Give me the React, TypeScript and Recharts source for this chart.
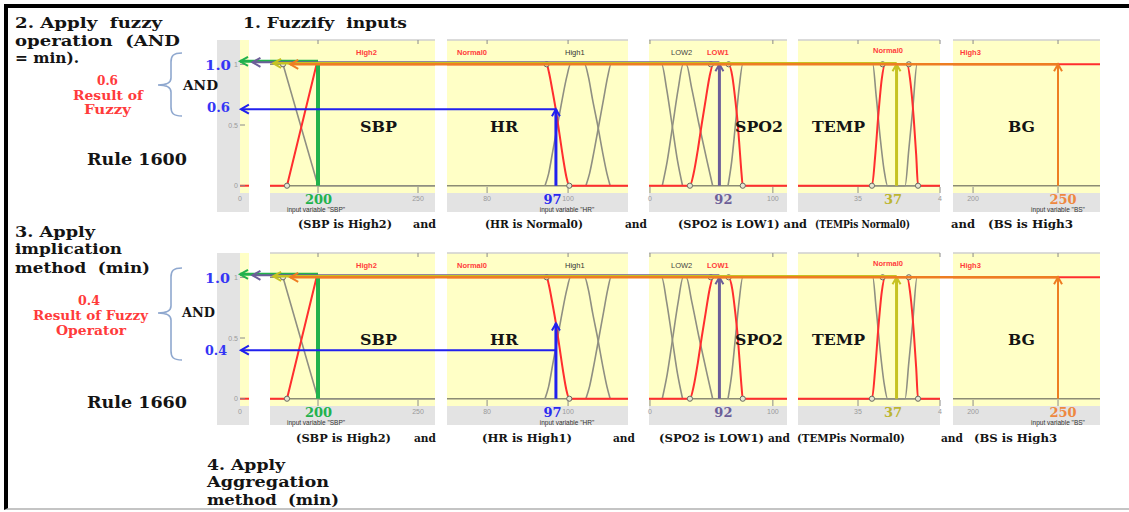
import React from 'react';
import { LineChart, Line, XAxis, YAxis, CartesianGrid, ReferenceLine } from 'recharts';

type P = { x: number; y: number };

// ---------------- data ----------------
const panelNames = ['SBP', 'HR', 'SPO2', 'TEMP', 'BG'];
const panelDomains: [number, number][] = [
  [176, 258.5], [70.1, 114.8], [79.84, 102.3], [31.34, 40], [188.2, 274.7],
];
const panelTicks: number[][] = [[200, 250], [80, 100], [80, 100], [35, 40], [200, 250]];
// tick labels as they can be seen (the ones under the big input numbers are hidden)
const panelTickLabels: string[][] = [['', '250'], ['80', '100'], ['0', '100'], ['35', '4'], ['200', '']];

// membership functions (red = active term, gray = other terms)
const sbpHigh2: P[] = [{ x: 176, y: 0 }, { x: 184.5, y: 0 }, { x: 199.3, y: 1 }, { x: 258.5, y: 1 }];
const sbpHigh1: P[] = [{ x: 176, y: 1 }, { x: 182.5, y: 1 }, { x: 200, y: 0 }, { x: 258.5, y: 0 }];

const hrNormal0: P[] = [
  { x: 70.1, y: 1 }, { x: 94.7, y: 1 }, { x: 95.3, y: 0.93 }, { x: 96.1, y: 0.79 }, { x: 97, y: 0.62 },
  { x: 97.9, y: 0.42 }, { x: 98.8, y: 0.22 }, { x: 99.6, y: 0.07 }, { x: 100.3, y: 0 }, { x: 114.8, y: 0 },
];
const hrHigh1: P[] = [
  { x: 94.3, y: 0 }, { x: 95.2, y: 0.1 }, { x: 96.3, y: 0.3 }, { x: 97.4, y: 0.5 }, { x: 98.6, y: 0.72 },
  { x: 99.7, y: 0.9 }, { x: 100.6, y: 1 }, { x: 104.1, y: 1 }, { x: 105, y: 0.9 }, { x: 106.1, y: 0.7 },
  { x: 107.3, y: 0.5 }, { x: 108.5, y: 0.28 }, { x: 109.6, y: 0.1 }, { x: 110.4, y: 0 },
];
const hrHigh2: P[] = [
  { x: 104.4, y: 0 }, { x: 105.3, y: 0.1 }, { x: 106.5, y: 0.3 }, { x: 107.6, y: 0.5 }, { x: 108.8, y: 0.72 },
  { x: 109.8, y: 0.9 }, { x: 110.6, y: 1 }, { x: 114.8, y: 1 },
];

const spoLow3: P[] = [
  { x: 79.84, y: 1 }, { x: 81.9, y: 1 }, { x: 82.7, y: 0.8 }, { x: 83.6, y: 0.5 }, { x: 84.5, y: 0.2 }, { x: 85.3, y: 0 },
];
const spoLow2: P[] = [
  { x: 82.0, y: 0 }, { x: 82.8, y: 0.2 }, { x: 83.7, y: 0.5 }, { x: 84.6, y: 0.8 }, { x: 85.4, y: 1 },
  { x: 85.9, y: 1 }, { x: 86.8, y: 0.8 }, { x: 88.0, y: 0.5 }, { x: 89.3, y: 0.2 }, { x: 90.2, y: 0 },
];
const spoLow1: P[] = [
  { x: 79.84, y: 0 }, { x: 86.5, y: 0 }, { x: 87.1, y: 0.1 }, { x: 87.8, y: 0.3 }, { x: 88.4, y: 0.5 },
  { x: 89.1, y: 0.72 }, { x: 89.7, y: 0.9 }, { x: 90.3, y: 1 }, { x: 92.8, y: 1 }, { x: 93.4, y: 0.9 },
  { x: 93.9, y: 0.7 }, { x: 94.3, y: 0.5 }, { x: 94.6, y: 0.3 }, { x: 94.9, y: 0.1 }, { x: 95.1, y: 0 }, { x: 102.3, y: 0 },
];
const spoNormal: P[] = [
  { x: 92.7, y: 0 }, { x: 93.3, y: 0.2 }, { x: 93.9, y: 0.5 }, { x: 94.5, y: 0.8 }, { x: 95.1, y: 1 }, { x: 102.3, y: 1 },
];

const tempLow: P[] = [
  { x: 31.34, y: 1 }, { x: 35.9, y: 1 }, { x: 36.1, y: 0.75 }, { x: 36.35, y: 0.4 }, { x: 36.6, y: 0.12 }, { x: 36.8, y: 0 }, { x: 40, y: 0 },
];
const tempNormal0: P[] = [
  { x: 31.34, y: 0 }, { x: 35.85, y: 0 }, { x: 36.05, y: 0.25 }, { x: 36.25, y: 0.6 }, { x: 36.45, y: 0.88 },
  { x: 36.65, y: 1 }, { x: 37.99, y: 1 }, { x: 38.2, y: 0.85 }, { x: 38.4, y: 0.55 }, { x: 38.55, y: 0.25 },
  { x: 38.66, y: 0 }, { x: 40, y: 0 },
];
const tempHigh: P[] = [
  { x: 31.34, y: 0 }, { x: 37.87, y: 0 }, { x: 38.1, y: 0.3 }, { x: 38.35, y: 0.65 }, { x: 38.6, y: 1 }, { x: 40, y: 1 },
];

const bgHigh3: P[] = [{ x: 188.2, y: 1 }, { x: 274.7, y: 1 }];

const panelGray: P[][][] = [[sbpHigh1], [hrHigh1, hrHigh2], [spoLow3, spoLow2, spoNormal], [tempLow, tempHigh], []];
const panelRed: P[][] = [sbpHigh2, hrNormal0, spoLow1, tempNormal0, bgHigh3];
const panelMarks: P[][] = [
  [{ x: 184.5, y: 0 }, { x: 182.5, y: 1 }],
  [{ x: 94.7, y: 1 }, { x: 100.3, y: 0 }],
  [{ x: 86.5, y: 0 }, { x: 89.9, y: 1 }, { x: 92.8, y: 1 }, { x: 95.1, y: 0 }],
  [{ x: 35.85, y: 0 }, { x: 36.5, y: 1 }, { x: 38.1, y: 1 }, { x: 38.66, y: 0 }],
  [],
];

// inputs and the arrows
const inputValues = [200, 97, 91.3, 37.35, 250];
const inputLabels = ['200', '97', '92', '37', '250'];
const riseTo = [[1, 0.63, 1, 1, 1], [1, 0.62, 1, 1, 1]];
const carryLevel = [[1, 0.63, 1, 1, 1], [1, 0.4, 1, 1, 1]];
const carryEnd = [161, 19.2, 15.3, -0.67, -201.8];

// left column (rule output axis)
const leftTicks = [0, 0.5, 1];
const leftTickLabels = ['0', '0.5', '1'];
const leftBase: P[] = [{ x: 0, y: 0 }, { x: 1, y: 0 }];

// MF term labels per panel
const termLabels: { t: string; dx: number; c: string; b: boolean; dy: number }[][] = [
  [{ t: 'High2', dx: 86, c: '#ff3b3b', b: true, dy: 0 }],
  [{ t: 'Normal0', dx: 10, c: '#ff3b3b', b: true, dy: 0 }, { t: 'High1', dx: 118, c: '#333', b: false, dy: 0 }],
  [{ t: 'LOW2', dx: 22, c: '#444', b: false, dy: 0 }, { t: 'LOW1', dx: 58, c: '#ff3b3b', b: true, dy: 0 }],
  [{ t: 'Normal0', dx: 75, c: '#ff3b3b', b: true, dy: -2 }],
  [{ t: 'High3', dx: 7, c: '#ff3b3b', b: true, dy: 0 }],
];
const inputVarLabels = ['input variable "SBP"', 'input variable "HR"', '', '', 'input variable "BS"'];

// ---------------- style / layout ----------------
const rowTops = [40, 253];
const panelLefts = [270, 447, 649, 798, 953];
const panelWidths = [165, 181, 138, 142, 147];
const PLOT_H = 153;
const AXIS_H = 19;
const Y_DOMAIN: [number, number] = [-0.06, 1.2];
const YELLOW = '#ffffc6';
const GRAYBG = '#e3e3e3';
const RED = '#ff2e2e';
const MFGRAY = '#8f8f82';
const arrowColors = ['#22b24c', '#2121ee', '#6c5e98', '#c6c222', '#ee7d22'];
const labelColors = ['#22b24c', '#2a2aee', '#6c5e98', '#bcb530', '#ee8840'];
const labelShift = [0.5, -3.5, 4, -3.5, 5];
const riseWidths = [4, 3, 3, 3, 2];
const carryWidths = [3, 2, 2, 2.5, 2.5];
const carryLift = [-3, 0, -2, -1, 0];
const riseHead = [false, true, true, true, true];
const curveTypes: ('linear' | 'monotone')[] = ['linear', 'monotone', 'monotone', 'monotone', 'linear'];
const SERIF = "'DejaVu Serif', serif";
const SANS = "'Liberation Sans', Arial, sans-serif";

function riseShape(i: number) {
  return (p: any) => {
    const { x1, y1, x2, y2 } = p;
    const c = arrowColors[i];
    return (
      <g>
        <line x1={x1} y1={y1} x2={x2} y2={y2} stroke={c} strokeWidth={riseWidths[i]} />
        {riseHead[i] && (
          <polyline points={`${x2 - 4},${y2 + 7} ${x2},${y2} ${x2 + 4},${y2 + 7}`} fill="none" stroke={c} strokeWidth={2} />
        )}
        <text x={x1 + labelShift[i]} y={y1 + 18} textAnchor="middle" fontFamily={SERIF} fontWeight="bold" fontSize={13} fill={labelColors[i]}>
          {inputLabels[i]}
        </text>
      </g>
    );
  };
}

function carryShape(i: number) {
  return (p: any) => {
    const { x1, y1, x2, y2 } = p;
    const c = arrowColors[i];
    const a = y1 + carryLift[i];
    const b = y2 + carryLift[i];
    return (
      <g>
        <line x1={x1} y1={a} x2={x2} y2={b} stroke={c} strokeWidth={carryWidths[i]} />
        <polyline points={`${x2 + 8},${b - 4.5} ${x2},${b} ${x2 + 8},${b + 4.5}`} fill="none" stroke={c} strokeWidth={2} />
      </g>
    );
  };
}

function Panel({ idx, row }: { idx: number; row: number }) {
  const w = panelWidths[idx];
  const dom = panelDomains[idx];
  const ticks = panelTicks[idx];
  const labels = panelTickLabels[idx];
  const tickFn = (p: any) => {
    const k = ticks.indexOf(p.payload.value);
    const x = p.x;
    const y = p.y;
    return (
      <g>
        <line x1={x} x2={x} y1={y - 6} y2={y} stroke="#8a8a8a" strokeWidth={1} />
        <line x1={x} x2={x} y1={y - PLOT_H} y2={y - PLOT_H + 4} stroke="#8a8a8a" strokeWidth={1} />
        {labels[k] ? (
          <text x={x} y={y + 8} textAnchor="middle" fontFamily={SANS} fontSize={7} fill="#9a9a9a">
            {labels[k]}
          </text>
        ) : null}
      </g>
    );
  };
  return (
    <div style={{ position: 'absolute', left: panelLefts[idx], top: rowTops[row], width: w, height: PLOT_H + AXIS_H, background: GRAYBG }}>
      <LineChart width={w} height={PLOT_H + AXIS_H} margin={{ top: 0, right: 0, bottom: 0, left: 0 }}>
        <CartesianGrid fill={YELLOW} horizontal={false} vertical={false} stroke="none" />
        <XAxis
          type="number" dataKey="x" domain={dom} ticks={ticks} interval={0} height={AXIS_H}
          axisLine={false} tickLine={false} tickSize={0} tickMargin={0} tick={tickFn} allowDataOverflow
        />
        <YAxis type="number" domain={Y_DOMAIN} hide allowDataOverflow />
        <ReferenceLine y={Y_DOMAIN[1]} stroke="#cfcfcf" strokeWidth={1.5} />
        <Line data={[{ x: dom[0], y: 0 }, { x: dom[1], y: 0 }]} dataKey="y" stroke="#8c8c74" strokeWidth={1.5} dot={false} activeDot={false} isAnimationActive={false} />
        {panelGray[idx].map((d, j) => (
          <Line key={j} data={d} dataKey="y" type={curveTypes[idx]} stroke={MFGRAY} strokeWidth={1.6} dot={false} activeDot={false} isAnimationActive={false} />
        ))}
        <Line data={panelRed[idx]} dataKey="y" type={curveTypes[idx]} stroke={RED} strokeWidth={2} dot={false} activeDot={false} isAnimationActive={false} />
        <Line data={panelMarks[idx]} dataKey="y" stroke="none" dot={{ r: 2.6, stroke: '#6a6a60', strokeWidth: 1, fill: '#e6e6d2' }} activeDot={false} isAnimationActive={false} />
        <ReferenceLine
          segment={[{ x: inputValues[idx], y: 0 }, { x: inputValues[idx], y: riseTo[row][idx] }]}
          ifOverflow="visible" shape={riseShape(idx)} zIndex={2000}
        />
        <ReferenceLine
          segment={[{ x: inputValues[idx], y: carryLevel[row][idx] }, { x: carryEnd[idx], y: carryLevel[row][idx] }]}
          ifOverflow="visible" shape={carryShape(idx)} zIndex={2000}
        />
      </LineChart>
    </div>
  );
}

function LeftColumn({ row }: { row: number }) {
  const yTick = (p: any) => {
    const k = leftTicks.indexOf(p.payload.value);
    return (
      <g>
        <line x1={p.x} x2={p.x + 5} y1={p.y} y2={p.y} stroke="#8a8a8a" strokeWidth={1} />
        <text x={p.x - 2} y={p.y + 2.5} textAnchor="end" fontFamily={SANS} fontSize={7} fill="#9a9a9a">
          {leftTickLabels[k]}
        </text>
      </g>
    );
  };
  const xTick = (p: any) => (
    <text x={p.x} y={p.y + 8} textAnchor="middle" fontFamily={SANS} fontSize={7} fill="#9a9a9a">0</text>
  );
  return (
    <div style={{ position: 'absolute', left: 217, top: rowTops[row], width: 32, height: PLOT_H + AXIS_H, background: GRAYBG }}>
      <LineChart width={32} height={PLOT_H + AXIS_H} margin={{ top: 0, right: 0, bottom: 0, left: 0 }}>
        <CartesianGrid fill={YELLOW} horizontal={false} vertical={false} stroke="none" />
        <XAxis type="number" dataKey="x" domain={[0, 1]} ticks={[0]} height={AXIS_H} axisLine={false} tickLine={false} tickSize={0} tickMargin={0} tick={xTick} allowDataOverflow />
        <YAxis type="number" domain={Y_DOMAIN} ticks={leftTicks} interval={0} width={23} axisLine={false} tickLine={false} tickSize={0} tickMargin={0} tick={yTick} allowDataOverflow />
        <Line data={leftBase} dataKey="y" stroke={RED} strokeWidth={2} dot={false} activeDot={false} isAnimationActive={false} />
      </LineChart>
    </div>
  );
}

type TS = { t: string; x: number; y: number; s: number; c?: string; w?: number; f?: string; b?: boolean };

const K = '#141414';
const BLUE = '#3535f5';
const RTXT = '#ff3b3b';

const texts: TS[] = [
  { t: '2. Apply  fuzzy', x: 15, y: 28, s: 15, w: 147 },
  { t: 'operation  (AND', x: 15, y: 46, s: 15, w: 165 },
  { t: '= min).', x: 15, y: 63, s: 15, w: 64 },
  { t: '1. Fuzzify  inputs', x: 243, y: 28, s: 15, w: 164 },
  { t: '0.6', x: 97, y: 85, s: 12, w: 21, c: RTXT },
  { t: 'Result of', x: 73, y: 100, s: 12, w: 70, c: RTXT },
  { t: 'Fuzzy', x: 84, y: 114, s: 12, w: 47, c: RTXT },
  { t: 'AND', x: 183, y: 90, s: 12, w: 35 },
  { t: '1.0', x: 205, y: 70, s: 13, w: 26, c: BLUE },
  { t: '0.6', x: 207, y: 112, s: 13, w: 23, c: BLUE },
  { t: 'Rule 1600', x: 87, y: 165, s: 16, w: 100 },
  { t: '3. Apply', x: 15, y: 237, s: 15, w: 80 },
  { t: 'implication', x: 15, y: 254, s: 15, w: 107 },
  { t: 'method  (min)', x: 15, y: 273, s: 15, w: 135 },
  { t: '0.4', x: 78, y: 305, s: 12, w: 22, c: RTXT },
  { t: 'Result of Fuzzy', x: 33, y: 320, s: 12, w: 115, c: RTXT },
  { t: 'Operator', x: 56, y: 335, s: 12, w: 70, c: RTXT },
  { t: 'AND', x: 182, y: 317, s: 12, w: 33 },
  { t: '1.0', x: 205, y: 283, s: 13, w: 25, c: BLUE },
  { t: '0.4', x: 205, y: 355, s: 13, w: 22, c: BLUE },
  { t: 'Rule 1660', x: 87, y: 408, s: 16, w: 100 },
  { t: '4. Apply', x: 207, y: 470, s: 15, w: 78 },
  { t: 'Aggregation', x: 207, y: 487, s: 15, w: 122 },
  { t: 'method  (min)', x: 207, y: 505, s: 15, w: 132 },
  // rule 1600 conditions
  { t: '(SBP is High2)', x: 298, y: 228, s: 11, w: 94 },
  { t: 'and', x: 413, y: 228, s: 11, w: 23 },
  { t: '(HR is Normal0)', x: 485, y: 228, s: 11, w: 98 },
  { t: 'and', x: 625, y: 228, s: 11, w: 22 },
  { t: '(SPO2 is LOW1) and', x: 678, y: 228, s: 11, w: 129 },
  { t: '(TEMPis Normal0)', x: 815, y: 228, s: 11, w: 95 },
  { t: 'and', x: 951, y: 228, s: 11, w: 24 },
  { t: '(BS is High3', x: 988, y: 228, s: 11, w: 85 },
  // rule 1660 conditions
  { t: '(SBP is High2)', x: 296, y: 442, s: 11, w: 95 },
  { t: 'and', x: 414, y: 442, s: 11, w: 22 },
  { t: '(HR is High1)', x: 482, y: 442, s: 11, w: 90 },
  { t: 'and', x: 613, y: 442, s: 11, w: 22 },
  { t: '(SPO2 is LOW1)', x: 659, y: 442, s: 11, w: 105 },
  { t: 'and', x: 768, y: 442, s: 11, w: 22 },
  { t: '(TEMPis Normal0)', x: 797, y: 442, s: 11, w: 108 },
  { t: 'and', x: 941, y: 442, s: 11, w: 22 },
  { t: '(BS is High3', x: 974, y: 442, s: 11, w: 83 },
];

function Overlay() {
  const panelText: React.ReactNode[] = [];
  rowTops.forEach((top, r) => {
    panelNames.forEach((n, i) => {
      const xs = [360, 490, 735, 812, 1008];
      const ws = [37, 28, 48, 53, 27];
      panelText.push(
        <text key={`n${r}${i}`} x={xs[i]} y={top + 92} fontFamily={SERIF} fontWeight="bold" fontSize={14} fill={K} textLength={ws[i]} lengthAdjust="spacingAndGlyphs">{n}</text>
      );
      termLabels[i].forEach((tl, j) => {
        panelText.push(
          <text key={`t${r}${i}${j}`} x={panelLefts[i] + tl.dx} y={top + 15 + tl.dy} fontFamily={SANS} fontWeight={tl.b ? 'bold' : 'normal'} fontSize={7.5} fill={tl.c}>{tl.t}</text>
        );
      });
      if (inputVarLabels[i]) {
        const cx = [316, 567, 0, 0, 1058][i];
        panelText.push(
          <text key={`v${r}${i}`} x={cx} y={top + 171.5} textAnchor="middle" fontFamily={SANS} fontSize={6.5} fill="#333">{inputVarLabels[i]}</text>
        );
      }
    });
  });
  const brace = (t: number, m: number, b: number) =>
    `M182,${t} C173,${t} 171,${t + 3} 171,${t + 9} L171,${m - 7} C171,${m - 2} 167,${m} 158,${m} C167,${m} 171,${m + 2} 171,${m + 7} L171,${b - 9} C171,${b - 3} 173,${b} 182,${b}`;
  return (
    <svg width={1129} height={512} style={{ position: 'absolute', left: 0, top: 0, pointerEvents: 'none' }}>
      <path d={brace(53, 85, 116)} fill="none" stroke="#8fa8cf" strokeWidth={1.6} />
      <path d={brace(268, 313, 360)} fill="none" stroke="#8fa8cf" strokeWidth={1.6} />
      {texts.map((s, i) => (
        <text
          key={i} x={s.x} y={s.y} fontFamily={s.f || SERIF} fontWeight={s.b === false ? 'normal' : 'bold'}
          fontSize={s.s} fill={s.c || K} textLength={s.w} lengthAdjust="spacingAndGlyphs" style={{ whiteSpace: 'pre' }}
        >
          {s.t}
        </text>
      ))}
      {panelText}
    </svg>
  );
}

export default function App() {
  return (
    <div style={{ position: 'absolute', left: 0, top: 0, width: 1129, height: 512, background: '#fff', overflow: 'hidden' }}>
      <style>{'.recharts-surface{overflow:visible}.recharts-wrapper{overflow:visible}'}</style>
      <div style={{ position: 'absolute', left: 4, top: 4, width: 1125, height: 506, borderTop: '4px solid #000', borderLeft: '4px solid #000', borderBottom: '2px solid #c4c4c4', boxSizing: 'border-box' }} />
      {[0, 1].map((r) => (
        <React.Fragment key={r}>
          <LeftColumn row={r} />
          {panelNames.map((_, i) => (
            <Panel key={i} idx={i} row={r} />
          ))}
        </React.Fragment>
      ))}
      <Overlay />
    </div>
  );
}
